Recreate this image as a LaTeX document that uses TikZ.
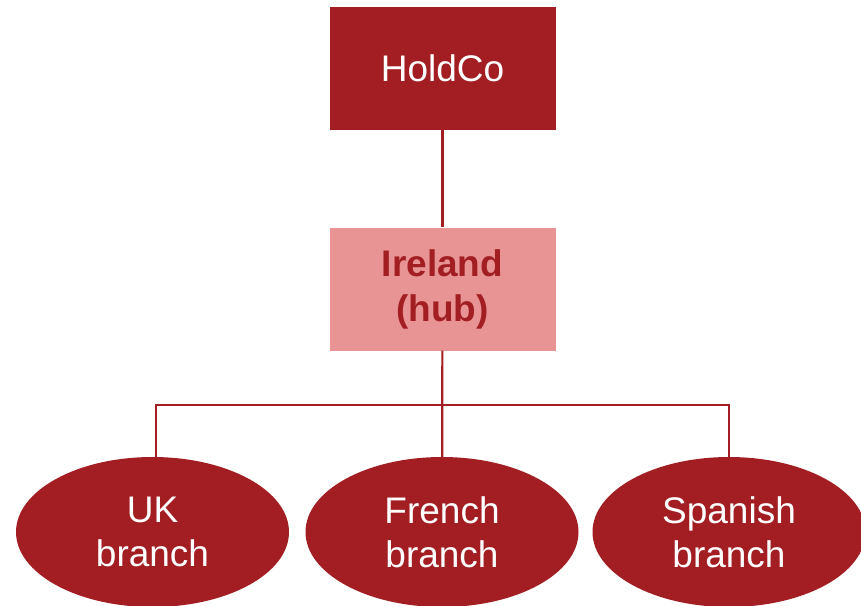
\documentclass[tikz,border=0pt]{standalone}
\usepackage{fontspec}
\setmainfont{Liberation Sans}
\usetikzlibrary{shapes.geometric}
\definecolor{darkred}{HTML}{A21E22}
\definecolor{hubpink}{HTML}{E89494}
\begin{document}
\begin{tikzpicture}[x=1pt,y=-1pt,
  boxnode/.style={rectangle, minimum width=226pt, minimum height=123pt, inner sep=0pt, align=center, font=\fontsize{37}{45}\selectfont},
  branchnode/.style={ellipse, fill=darkred, minimum width=273pt, minimum height=150pt, inner sep=0pt, align=center, text=white, font=\fontsize{37}{44}\selectfont},
  link/.style={draw=darkred, line width=2.2pt}]
\useasboundingbox (0,0) rectangle (861,605);
\begin{scope}
\clip (0,0) rectangle (861,605);
\node[boxnode, fill=darkred, text=white] (holdco) at (442.5,68) {HoldCo};
\node[boxnode, fill=hubpink, text=darkred, font=\fontsize{37}{45}\selectfont\bfseries] (hub) at (442.5,289) {Ireland\\(hub)};
\node[branchnode] (uk) at (152.5,532) {UK\\branch};
\node[branchnode] (fr) at (442,532) {French\\branch};
\node[branchnode] (es) at (729,532) {Spanish\\branch};
\coordinate (split) at (442,405);
\draw[link] (holdco) -- (hub);
\draw[link] (hub) -- (fr);
\draw[link] (split) -| ([xshift=3.5pt]uk.north);
\draw[link] (split) -| (es.north);
\end{scope}
\end{tikzpicture}
\end{document}
